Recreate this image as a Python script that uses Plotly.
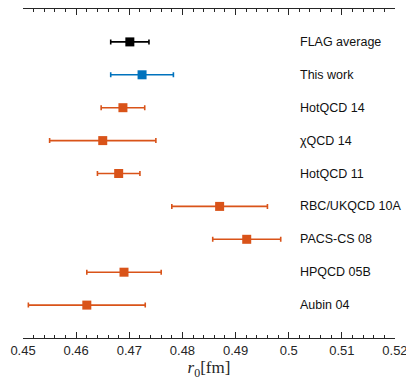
import plotly.graph_objects as go

labels = ["FLAG average", "This work", "HotQCD 14", "χQCD 14", "HotQCD 11",
          "RBC/UKQCD 10A", "PACS-CS 08", "HPQCD 05B", "Aubin 04"]
values = [0.4701, 0.4724, 0.4688, 0.465, 0.468, 0.487, 0.4921, 0.469, 0.462]
errors = [0.0036, 0.0059, 0.0041, 0.010, 0.004, 0.009, 0.0064, 0.007, 0.011]
colors = ["#000000", "#0072BD"] + ["#D95319"] * 7
positions = [9, 8, 7, 6, 5, 4, 3, 2, 1]
tick_vals = [0.45, 0.46, 0.47, 0.48, 0.49, 0.50, 0.51, 0.52]
tick_text = ["0.45", "0.46", "0.47", "0.48", "0.49", "0.5", "0.51", "0.52"]
label_x = 0.5018

fig = go.Figure()
for lab, v, e, c, p in zip(labels, values, errors, colors, positions):
    fig.add_trace(go.Scatter(
        x=[v], y=[p], mode="markers",
        marker=dict(symbol="square", size=9, color=c),
        error_x=dict(type="data", array=[e], color=c, thickness=1.6, width=2.5),
        showlegend=False, name=lab))
    fig.add_annotation(x=label_x, y=p, xref="x", yref="y", text=lab,
                       showarrow=False, xanchor="left", yanchor="middle",
                       font=dict(family="Liberation Sans, Arial", size=12.5, color="#111111"))

fig.update_layout(
    width=406, height=380,
    margin=dict(l=23, r=11, t=9, b=42),
    plot_bgcolor="white", paper_bgcolor="white",
)
fig.update_xaxes(
    range=[0.44999, 0.52001], showgrid=False, zeroline=False, automargin=False,
    showline=True, linecolor="#262626", linewidth=1, mirror="ticks",
    ticks="inside", ticklen=6, tickcolor="#262626", tickwidth=1,
    tickvals=tick_vals, ticktext=tick_text, ticklabeloverflow="allow",
    tickfont=dict(family="Liberation Sans, Arial", size=13, color="#262626"),
    minor=dict(tick0=0.45, dtick=0.002, ticks="inside", ticklen=3, tickcolor="#262626", tickwidth=1, showgrid=False),
    title=dict(text="<i>r</i><sub>0</sub>[fm]", standoff=4,
               font=dict(family="Liberation Serif, DejaVu Serif", size=17, color="#262626")),
)
fig.update_yaxes(range=[0, 10], showgrid=False, zeroline=False, showline=False,
                 showticklabels=False, ticks="", automargin=False)

fig.write_html("out.html", config={"displayModeBar": False},
               post_script="document.body.style.margin='0';")
